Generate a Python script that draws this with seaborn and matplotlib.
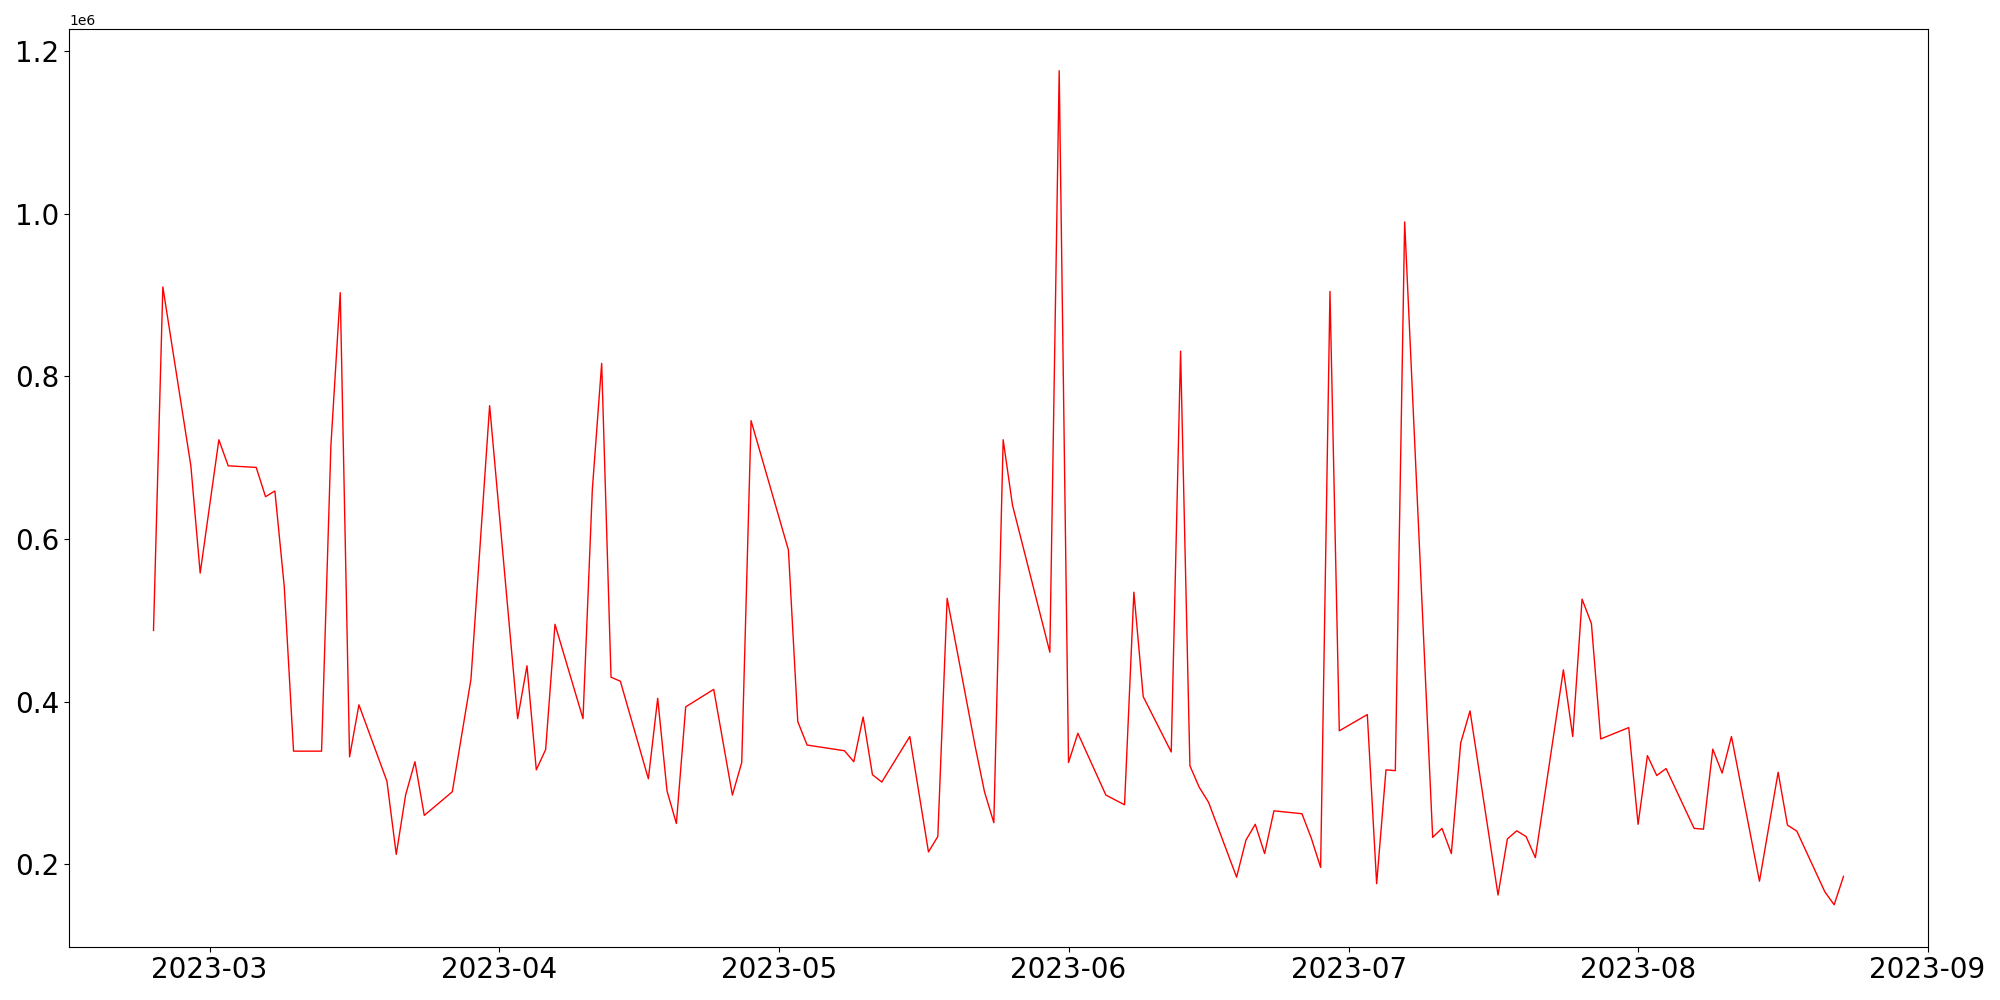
import pandas as pd
import matplotlib
matplotlib.use('Agg')
import matplotlib.pyplot as plt
import seaborn as sns

# daily values (weekdays, some days missing)
dates = [
    "2023-02-23", "2023-02-24", "2023-02-27", "2023-02-28", "2023-03-02", "2023-03-03",
    "2023-03-06", "2023-03-07", "2023-03-08", "2023-03-09", "2023-03-10",
    "2023-03-13", "2023-03-14", "2023-03-15", "2023-03-16", "2023-03-17",
    "2023-03-20", "2023-03-21", "2023-03-22", "2023-03-23", "2023-03-24",
    "2023-03-27", "2023-03-29", "2023-03-31",
    "2023-04-03", "2023-04-04", "2023-04-05", "2023-04-06", "2023-04-07",
    "2023-04-10", "2023-04-11", "2023-04-12", "2023-04-13", "2023-04-14",
    "2023-04-17", "2023-04-18", "2023-04-19", "2023-04-20", "2023-04-21",
    "2023-04-24", "2023-04-26", "2023-04-27", "2023-04-28",
    "2023-05-02", "2023-05-03", "2023-05-04",
    "2023-05-08", "2023-05-09", "2023-05-10", "2023-05-11", "2023-05-12",
    "2023-05-15", "2023-05-17", "2023-05-18", "2023-05-19",
    "2023-05-22", "2023-05-23", "2023-05-24", "2023-05-25", "2023-05-26",
    "2023-05-30", "2023-05-31", "2023-06-01", "2023-06-02",
    "2023-06-05", "2023-06-07", "2023-06-08", "2023-06-09",
    "2023-06-12", "2023-06-13", "2023-06-14", "2023-06-15", "2023-06-16",
    "2023-06-19", "2023-06-20", "2023-06-21", "2023-06-22", "2023-06-23",
    "2023-06-26", "2023-06-27", "2023-06-28", "2023-06-29", "2023-06-30",
    "2023-07-03", "2023-07-04", "2023-07-05", "2023-07-06", "2023-07-07",
    "2023-07-10", "2023-07-11", "2023-07-12", "2023-07-13", "2023-07-14",
    "2023-07-17", "2023-07-18", "2023-07-19", "2023-07-20", "2023-07-21",
    "2023-07-24", "2023-07-25", "2023-07-26", "2023-07-27", "2023-07-28",
    "2023-07-31", "2023-08-01", "2023-08-02", "2023-08-03", "2023-08-04",
    "2023-08-07", "2023-08-08", "2023-08-09", "2023-08-10", "2023-08-11",
    "2023-08-14", "2023-08-16", "2023-08-17", "2023-08-18",
    "2023-08-21", "2023-08-22", "2023-08-23",
]

values = [
    487500, 910000, 690000, 558000, 722000, 690000,
    688000, 652000, 659000, 542000, 339000,
    339000, 715000, 903000, 332000, 396000,
    302000, 212000, 285000, 326000, 260000,
    289000, 427500, 764000,
    379000, 444000, 316000, 341000, 495000,
    379000, 661000, 816000, 430000, 425000,
    305000, 404000, 290000, 250000, 393500,
    415000, 285000, 325000, 745500,
    586500, 375500, 346500,
    339500, 326000, 381000, 310000, 301000,
    357000, 215000, 234000, 527000,
    345000, 289000, 251000, 722000, 641500,
    460700, 1176000, 325000, 361000,
    285000, 273000, 534500, 406000,
    338000, 831000, 321000, 294500, 276000,
    184000, 229500, 249000, 213000, 265600,
    262000, 232000, 196000, 904500, 364000,
    384000, 176000, 316000, 315000, 990000,
    233000, 244000, 213000, 349000, 388500,
    162000, 231000, 241000, 234000, 208000,
    439000, 357000, 526000, 496000, 354000,
    368000, 249000, 333500, 309000, 317600,
    244000, 243000, 341500, 312000, 357000,
    179000, 313000, 248000, 240600,
    166000, 150000, 185000,
]

df = pd.DataFrame({'date': pd.to_datetime(dates), 'value': values})

fig, ax = plt.subplots(figsize=(20, 10), dpi=100)
sns.lineplot(data=df, x='date', y='value', color='red', linewidth=1.0, ax=ax)

ax.set_xlabel('')
ax.set_ylabel('')
plt.xticks(fontsize=20)
plt.yticks(fontsize=20)

plt.subplots_adjust(left=0.0345, right=0.964, top=0.971, bottom=0.0535)
plt.savefig('out.png', dpi=100)
